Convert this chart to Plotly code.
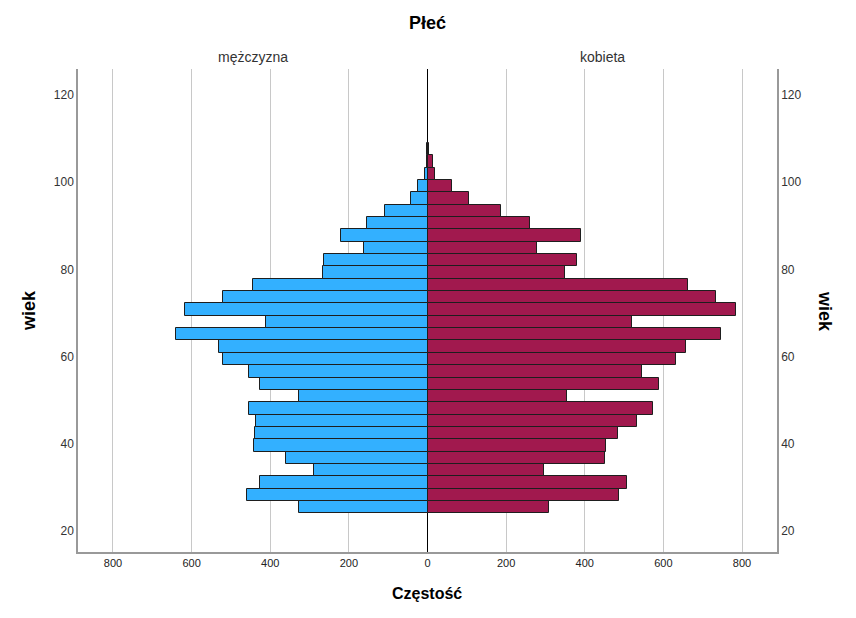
import plotly.graph_objects as go

# Age bin centres (years), bottom to top
ages = [25.42, 28.25, 31.08, 33.92, 36.75, 39.58, 42.42, 45.25, 48.08, 50.92,
        53.75, 56.58, 59.42, 62.25, 65.08, 67.92, 70.75, 73.58, 76.42, 79.25,
        82.08, 84.92, 87.75, 90.58, 93.42, 96.25, 99.08, 101.92, 104.75, 107.58]
bin_width = 2.833

# Frequencies (Częstość)
men = [327, 458, 427, 289, 361, 441, 438, 437, 454, 326,
       425, 454, 520, 530, 640, 412, 616, 519, 443, 267,
       264, 162, 220, 154, 107, 42, 24, 6, 1, 2]
women = [310, 488, 507, 296, 451, 453, 484, 534, 574, 354,
         590, 546, 632, 657, 746, 520, 784, 735, 662, 349,
         379, 278, 391, 261, 187, 105, 63, 20, 15, 5]

x_ticks = [-800, -600, -400, -200, 0, 200, 400, 600, 800]
x_tick_text = [str(abs(v)) for v in x_ticks]
y_ticks = [20, 40, 60, 80, 100, 120]

title_text = "Płeć"
facet_left = "mężczyzna"
facet_right = "kobieta"
x_title = "Częstość"
y_title = "wiek"

FONT = "Liberation Sans, Arial, sans-serif"
blue = "#33B0FF"
maroon = "#A1194E"
outline = "#1e1e1e"

# page offset (browser body margin)
OFF = 8
W, H = 856 - OFF, 618 - OFF
# plot area in page pixel coords
PL, PR, PT, PB = 78, 777, 69, 552

fig = go.Figure()
fig.add_trace(go.Bar(
    y=ages, x=[-v for v in men], orientation="h", width=bin_width,
    marker=dict(color=blue, line=dict(color=outline, width=1)),
    customdata=men, hovertemplate="wiek %{y}: %{customdata}<extra>mężczyzna</extra>",
    name=facet_left, showlegend=False,
))
fig.add_trace(go.Bar(
    y=ages, x=women, orientation="h", width=bin_width,
    marker=dict(color=maroon, line=dict(color=outline, width=1)),
    hovertemplate="wiek %{y}: %{x}<extra>kobieta</extra>",
    name=facet_right, showlegend=False,
))
# invisible trace to activate right-hand axis
fig.add_trace(go.Scatter(x=[0], y=[60], yaxis="y2", mode="markers",
                         marker=dict(opacity=0), showlegend=False, hoverinfo="skip"))


def ann(text, px, py, size, color, angle=0):
    return dict(text=text, xref="paper", yref="paper",
                x=(px - PL) / (PR - PL), y=(PB - py) / (PB - PT),
                xanchor="center", yanchor="middle", textangle=angle,
                showarrow=False, font=dict(size=size, color=color))


yr = [15.1, 126.0]
fig.update_layout(
    width=W, height=H,
    margin=dict(l=PL - OFF, r=W - (PR - OFF), t=PT - OFF, b=H - (PB - OFF), pad=0),
    paper_bgcolor="white", plot_bgcolor="white",
    barmode="overlay", bargap=0,
    font=dict(family=FONT, color="#222"),
    xaxis=dict(
        range=[-889, 889], tickvals=x_ticks, ticktext=x_tick_text,
        showgrid=True, gridcolor="#c8c8c8", gridwidth=1,
        zeroline=True, zerolinecolor="black", zerolinewidth=1,
        showline=True, linecolor="#999999", linewidth=1.5,
        ticks="", tickfont=dict(size=11, color="#222"),
        fixedrange=True,
    ),
    yaxis=dict(
        range=yr, tickvals=y_ticks, showgrid=False, zeroline=False,
        showline=True, linecolor="#999999", linewidth=1.5,
        ticks="", ticklen=0, tickfont=dict(size=12, color="#333"),
    ),
    yaxis2=dict(
        range=yr, tickvals=y_ticks, overlaying="y", side="right",
        showgrid=False, zeroline=False,
        showline=True, linecolor="#999999", linewidth=1.5,
        ticks="", tickfont=dict(size=12, color="#333"),
    ),
    annotations=[
        ann(f"<b>{title_text}</b>", 427, 23, 18, "black"),
        ann(facet_left, 252.5, 57, 14, "#333"),
        ann(facet_right, 602, 57, 14, "#333"),
        ann(f"<b>{x_title}</b>", 427, 593, 16, "black"),
        ann(f"<b>{y_title}</b>", 29, 311, 18, "black", -90),
        ann(f"<b>{y_title}</b>", 825, 311, 18, "black", 90),
    ],
)

fig.write_html("out.html")
